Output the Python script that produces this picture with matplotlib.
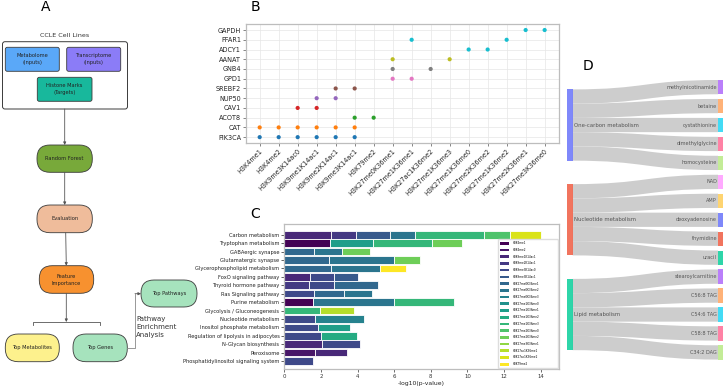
import matplotlib
matplotlib.use('Agg')
import matplotlib.pyplot as plt
import numpy as np
from matplotlib.patches import FancyBboxPatch, Rectangle, PathPatch
from matplotlib.path import Path

W, H = 726, 387

# ---------------- Panel B data ----------------
genes = ['PIK3CA', 'CAT', 'ACOT8', 'CAV1', 'NUP50', 'SREBF2', 'GPD1', 'GNB4',
         'AANAT', 'ADCY1', 'FFAR1', 'GAPDH']
gene_colors = ['#1f77b4', '#ff7f0e', '#2ca02c', '#d62728', '#9467bd', '#8c564b',
               '#e377c2', '#7f7f7f', '#bcbd22', '#17becf', '#17becf', '#17becf']
b_marks = ['H3K4me1', 'H3K4me2', 'H3K9me3K14ac0', 'H3K9me1K14ac1', 'H3K9me2K14ac1',
           'H3K9me3K14ac1', 'H3K79me2', 'H3K27me0K36me1', 'H3K27me1K36me1',
           'H3K27ac1K36me2', 'H3K27me1K36me3', 'H3K27me1K36me0', 'H3K27me2K36me2',
           'H3K27me1K36me2', 'H3K27me2K36me1', 'H3K27me3K36me0']
point_gene = ['PIK3CA'] * 6 + ['CAT'] * 6 + ['ACOT8'] * 2 + ['CAV1'] * 2 + ['NUP50'] * 2 + \
             ['SREBF2'] * 2 + ['GPD1'] * 2 + ['GNB4'] * 2 + ['AANAT'] * 2 + ['ADCY1'] * 2 + \
             ['FFAR1'] * 2 + ['GAPDH'] * 2
point_mark = ['H3K4me1', 'H3K4me2', 'H3K9me3K14ac0', 'H3K9me1K14ac1', 'H3K9me2K14ac1', 'H3K9me3K14ac1',
              'H3K4me1', 'H3K4me2', 'H3K9me3K14ac0', 'H3K9me1K14ac1', 'H3K9me2K14ac1', 'H3K9me3K14ac1',
              'H3K9me3K14ac1', 'H3K79me2',
              'H3K9me3K14ac0', 'H3K9me1K14ac1',
              'H3K9me1K14ac1', 'H3K9me2K14ac1',
              'H3K9me2K14ac1', 'H3K9me3K14ac1',
              'H3K27me0K36me1', 'H3K27me1K36me1',
              'H3K27me0K36me1', 'H3K27ac1K36me2',
              'H3K27me0K36me1', 'H3K27me1K36me3',
              'H3K27me1K36me0', 'H3K27me2K36me2',
              'H3K27me1K36me1', 'H3K27me1K36me2',
              'H3K27me2K36me1', 'H3K27me3K36me0']

# ---------------- Panel C data ----------------
pathways = ['Carbon metabolism', 'Tryptophan metabolism', 'GABAergic synapse',
            'Glutamatergic synapse', 'Glycerophospholipid metabolism', 'FoxO signaling pathway',
            'Thyroid hormone pathway', 'Ras Signaling pathway', 'Purine metabolism',
            'Glycolysis / Gluconeogenesis', 'Nucleotide metabolism',
            'Inositol phosphate metabolism', 'Regulation of lipolysis in adipocytes',
            'N-Glycan biosynthesis', 'Peroxisome', 'Phosphatidylinositol signaling system']
c_marks = ['H3K4me1', 'H3K4me2', 'H3K9me1K14ac1', 'H3K9me2K14ac1', 'H3K9me3K14ac0',
           'H3K9me3K14ac1', 'H3K27me0K36me1', 'H3K27me0K36me2', 'H3K27me0K36me3',
           'H3K27me1K36me0', 'H3K27me1K36me1', 'H3K27me1K36me2', 'H3K27me1K36me3',
           'H3K27me2K36me0', 'H3K27me2K36me2', 'H3K27me3K36me1', 'H3K27ac1K36me1',
           'H3K27ac1K36me2', 'H3K79me2']
seg_marks = [
    [2, 3, 5, 7, 12, 13, 17],
    [0, 10, 12, 14],
    [6, 7, 14],
    [6, 7, 14],
    [6, 7, 18],
    [2, 4, 5],
    [3, 4, 6],
    [4, 6, 7],
    [0, 7, 12],
    [12, 16],
    [4, 8],
    [4, 10],
    [4, 11],
    [2, 4],
    [1, 2],
    [4],
]
seg_values = [
    [2.55, 1.37, 1.87, 1.35, 3.76, 1.43, 1.67],
    [2.50, 2.33, 3.24, 1.64],
    [1.64, 1.49, 1.53],
    [2.46, 3.51, 1.46],
    [2.55, 2.66, 1.46],
    [1.38, 1.35, 1.31],
    [1.33, 1.40, 2.37],
    [1.64, 1.64, 1.49],
    [1.58, 4.39, 3.32],
    [1.93, 1.86],
    [1.69, 2.65],
    [1.82, 1.79],
    [2.00, 1.99],
    [2.06, 2.09],
    [1.69, 1.72],
    [1.58],
]

# ---------------- Panel D data ----------------
d_sources = ['One-carbon metabolism', 'Nucleotide metabolism', 'Lipid metabolism']
d_source_colors = ['#636EFA', '#EF553B', '#00CC96']
d_targets = ['methylnicotinamide', 'betaine', 'cystathionine', 'dimethylglycine', 'homocysteine',
             'NAD', 'AMP', 'deoxyadenosine', 'thymidine', 'uracil',
             'stearoylcarnitine', 'C56:8 TAG', 'C54:6 TAG', 'C58:8 TAG', 'C34:2 DAG']
d_target_colors = ['#AB63FA', '#FFA15A', '#19D3F3', '#FF6692', '#B6E880',
                   '#FF97FF', '#FECB52', '#636EFA', '#EF553B', '#00CC96',
                   '#AB63FA', '#FFA15A', '#19D3F3', '#FF6692', '#B6E880']
d_link_source = [0] * 5 + [1] * 5 + [2] * 5
d_link_value = [1] * 15

# ================= Figure =================
fig = plt.figure(figsize=(7.26, 3.87), dpi=100)


def ax_rect(l, t, r, b):
    return [l / W, 1 - b / H, (r - l) / W, (b - t) / H]


# ---------------- Panel B ----------------
axb = fig.add_axes(ax_rect(246, 24, 558.7, 143))
gx = [b_marks.index(m) for m in point_mark]
gy = [genes.index(g) for g in point_gene]
gc = [gene_colors[genes.index(g)] for g in point_gene]
axb.scatter(gx, gy, s=9, c=gc, zorder=3, linewidths=0)
axb.set_xticks(range(len(b_marks)))
axb.set_xticklabels(b_marks, rotation=45, ha='right', rotation_mode='anchor', fontsize=4.7)
axb.set_yticks(range(len(genes)))
axb.set_yticklabels(genes, fontsize=4.7)
axb.set_xlim(-0.72, len(b_marks) - 1 + 0.74)
axb.set_ylim(-0.6, len(genes) - 1 + 0.62)
axb.grid(True, color='#e6e6e6', lw=0.5)
axb.set_axisbelow(True)
for s in axb.spines.values():
    s.set_color('#bdbdbd')
    s.set_linewidth(0.9)
axb.tick_params(length=2, width=0.5, color='#555555', pad=1.5, colors='#222222')

# ---------------- Panel C ----------------
axc = fig.add_axes(ax_rect(284.3, 224.3, 559, 369.3))
cmap = plt.get_cmap('viridis')
mark_colors = [cmap(i / (len(c_marks) - 1)) for i in range(len(c_marks))]
for i in range(len(pathways)):
    left = 0.0
    for m, v in zip(seg_marks[i], seg_values[i]):
        axc.barh(i, v, left=left, height=0.9, color=mark_colors[m], edgecolor='white', linewidth=0.6)
        left += v
axc.set_yticks(range(len(pathways)))
axc.set_yticklabels(pathways, fontsize=3.7)
axc.set_ylim(len(pathways) - 1 + 0.99, -1.25)
axc.set_xlim(0, 15)
axc.set_xticks(range(0, 15, 2))
axc.tick_params(axis='x', labelsize=3.9, length=2, width=0.5, pad=1.5, colors='#333333')
axc.tick_params(axis='y', length=2, width=0.5, pad=1.5, colors='#222222')
axc.set_xlabel('-log10(p-value)', fontsize=4.4, labelpad=1.5, color='#222222')
for s in axc.spines.values():
    s.set_color('#bdbdbd')
    s.set_linewidth(0.9)
handles = [Rectangle((0, 0), 1, 1, fc=mark_colors[i], ec='none') for i in range(len(c_marks))]
axc.legend(handles, c_marks, loc='lower left', bbox_to_anchor=(0.777, 0.006, 0.218, 0.9),
           mode='expand', fontsize=2.0,
           handlelength=3.4, handleheight=1.1, labelspacing=0.98, handletextpad=1.2,
           borderpad=0.8, borderaxespad=0.0, frameon=True, edgecolor='#dddddd', fancybox=True,
           framealpha=1.0)

# ---------------- Overlay for A and D ----------------
ax0 = fig.add_axes([0, 0, 1, 1])
ax0.set_xlim(0, W)
ax0.set_ylim(H, 0)
ax0.axis('off')
ax0.patch.set_alpha(0)

ax0.text(45.3, 7.2, 'A', fontsize=10, ha='center', va='center')
ax0.text(255, 7.2, 'B', fontsize=10, ha='center', va='center')
ax0.text(255.3, 213.8, 'C', fontsize=10, ha='center', va='center')
ax0.text(588, 65.7, 'D', fontsize=10, ha='center', va='center')

EC = '#3a3a3a'


def box(x, y, w, h, fc, text, r=2.0, fs=3.7, lw=0.6):
    p = FancyBboxPatch((x, y), w, h, boxstyle=f'round,pad=0,rounding_size={r}',
                       fc=fc, ec=EC, lw=lw, mutation_aspect=1)
    ax0.add_patch(p)
    if text:
        ax0.text(x + w / 2, y + h / 2, text, fontsize=fs, ha='center', va='center',
                 color='#222222', linespacing=1.5)


def arrow(x0, y0, x1, y1):
    ax0.annotate('', xy=(x1, y1), xytext=(x0, y0),
                 arrowprops=dict(arrowstyle='-|>', color='#555555', lw=0.6,
                                 mutation_scale=4, shrinkA=0, shrinkB=0))


# outer box
box(2.5, 41.7, 125, 67.3, 'white', None, r=2.5, lw=0.7)
ax0.text(64.5, 35.5, 'CCLE Cell Lines', fontsize=4.6, ha='center', va='center', color='#333333')
box(5.3, 47.3, 54, 24, '#5aa8f8', 'Metabolome\n(Inputs)')
box(66.7, 47.3, 54, 24, '#8b7cf7', 'Transcriptome\n(Inputs)')
box(37.3, 77.3, 54.7, 24, '#18b89c', 'Histone Marks\n(Targets)')
arrow(64.7, 109, 64.7, 145)
box(37, 145, 55.3, 27.3, '#78a93a', 'Random Forest', r=13)
arrow(64.7, 172.3, 64.7, 205)
box(37, 205, 55.3, 27.7, '#efbc9b', 'Evaluation', r=13)
arrow(65.7, 232.7, 66.3, 265.7)
box(39.3, 265.7, 54.4, 27.6, '#f7912f', 'Feature\nImportance', r=13)
arrow(66.3, 293.3, 66.3, 322)
ax0.plot([32.7, 32.7, 100.3, 100.3], [325, 322.3, 322.3, 325], color='#555555', lw=0.6)
box(5.3, 334, 54, 27.7, '#fdf18d', 'Top Metabolites', r=13)
box(73, 334, 54.3, 27.7, '#a6e3bd', 'Top Genes', r=13)
ax0.plot([127.3, 135, 135], [348, 348, 293.7], color='#888888', lw=0.6)
arrow(135, 293.7, 141, 293.7)
box(141, 280, 56, 27, '#a6e3bd', 'Top Pathways', r=13)
ax0.text(136, 315.5, 'Pathway\nEnrichment\nAnalysis', fontsize=5.0, ha='left', va='top',
         color='#333333', linespacing=1.45)

# ---------------- Panel D (sankey) ----------------
unit = 14.25
gap_r = 4.7
xl0, xl1 = 566.7, 572.7
xr0, xr1 = 718.0, 723.3
r_top = 80.0
rt = []
y = r_top
for v in d_link_value:
    rt.append(y)
    y += v * unit + gap_r
left_tops = []
for i in range(len(d_sources)):
    idx = [k for k, s in enumerate(d_link_source) if s == i]
    tot = sum(d_link_value[k] for k in idx)
    c = (rt[idx[0]] + rt[idx[-1]] + d_link_value[idx[-1]] * unit) / 2
    left_tops.append(c - tot * unit / 2)

# links
off = [0.0] * len(d_sources)
for k, s in enumerate(d_link_source):
    h = d_link_value[k] * unit
    ya0 = left_tops[s] + off[s]
    ya1 = ya0 + h
    off[s] += h
    yb0 = rt[k]
    yb1 = yb0 + h
    xm = (xl1 + xr0) / 2
    verts = [(xl1, ya0), (xm, ya0), (xm, yb0), (xr0, yb0), (xr0, yb1),
             (xm, yb1), (xm, ya1), (xl1, ya1), (xl1, ya0)]
    codes = [Path.MOVETO, Path.CURVE4, Path.CURVE4, Path.CURVE4, Path.LINETO,
             Path.CURVE4, Path.CURVE4, Path.CURVE4, Path.CLOSEPOLY]
    ax0.add_patch(PathPatch(Path(verts, codes), fc='#cdcdcd', ec='none', alpha=1.0))

for i, name in enumerate(d_sources):
    tot = sum(v for v, s in zip(d_link_value, d_link_source) if s == i) * unit
    ax0.add_patch(Rectangle((xl0, left_tops[i]), xl1 - xl0, tot, fc=d_source_colors[i],
                            ec='none', alpha=0.82))
    ax0.text(xl1 + 1.5, left_tops[i] + tot / 2, name, fontsize=3.85, ha='left', va='center',
             color='#555555')
for k, name in enumerate(d_targets):
    h = d_link_value[k] * unit
    ax0.add_patch(Rectangle((xr0, rt[k]), xr1 - xr0, h, fc=d_target_colors[k],
                            ec='none', alpha=0.82))
    ax0.text(xr0 - 1.0, rt[k] + h / 2, name, fontsize=3.6, ha='right', va='center',
             color='#555555')

fig.savefig('out.png', dpi=100)
